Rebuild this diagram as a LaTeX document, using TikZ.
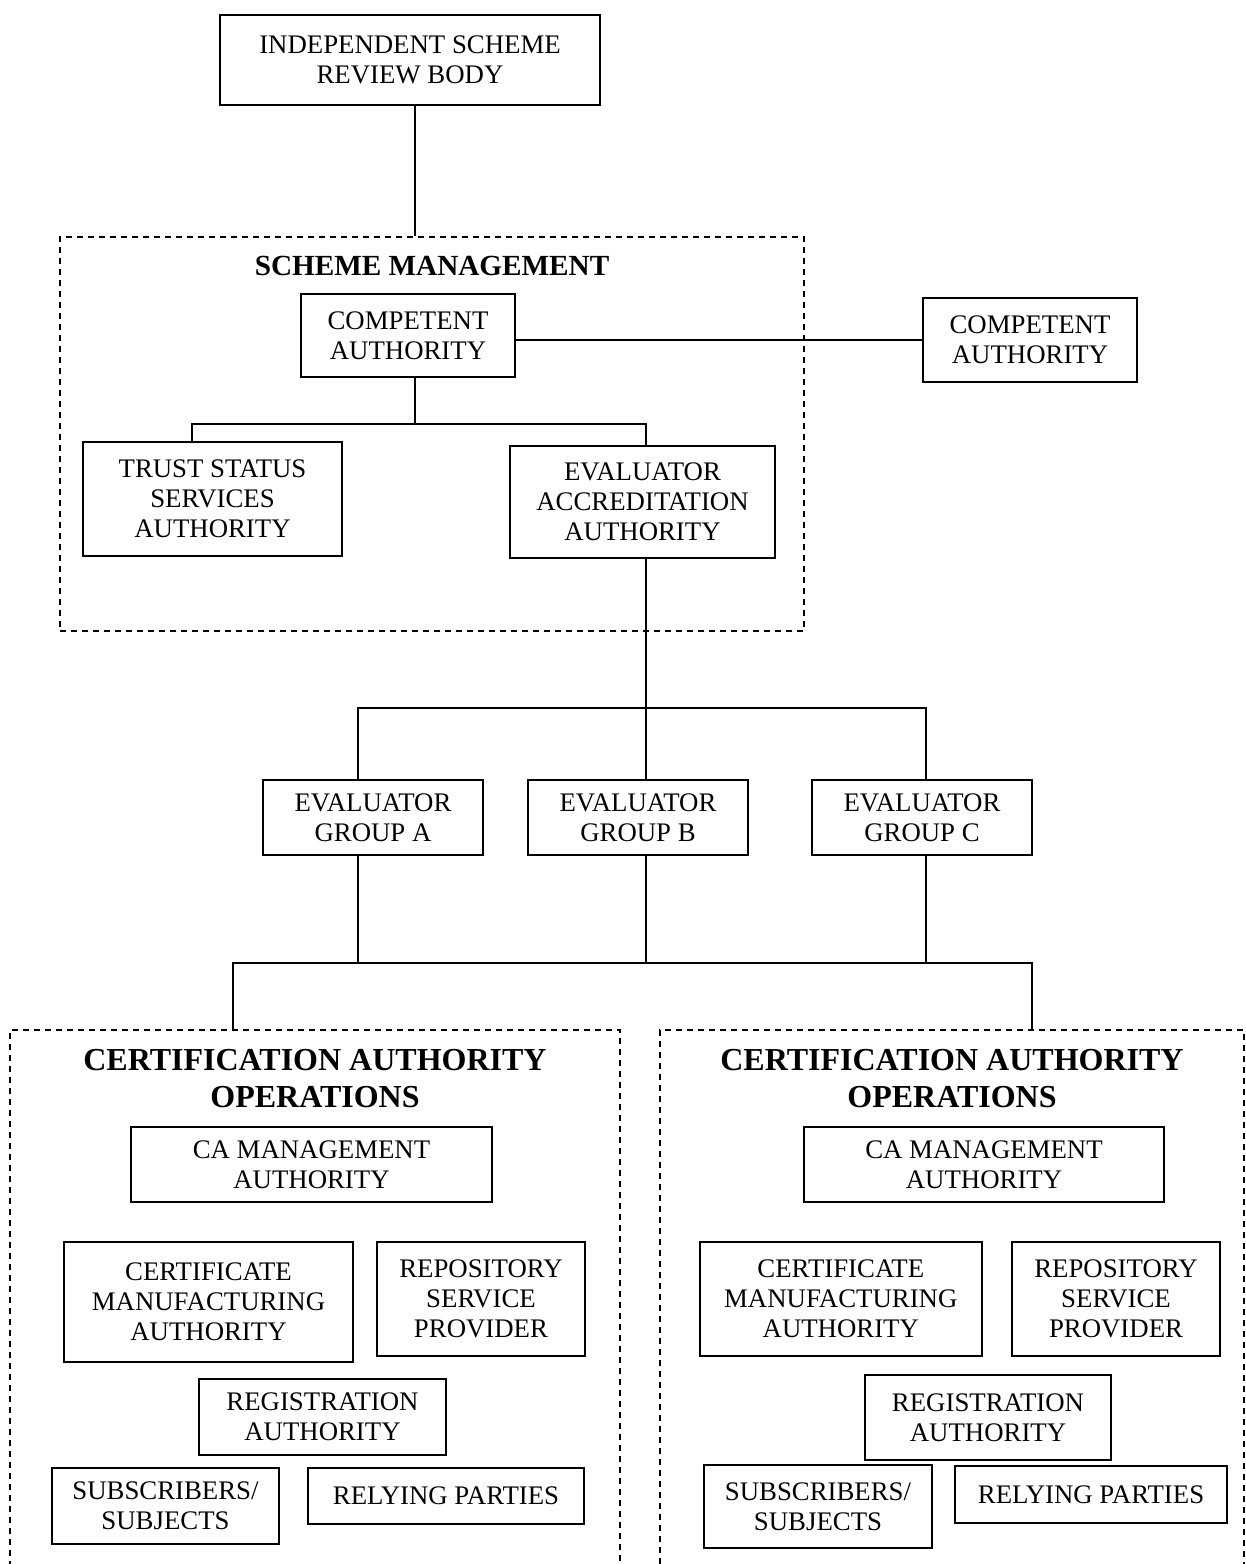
\documentclass[tikz,border=0pt]{standalone}
\usepackage{fontspec}
\setmainfont{Liberation Serif}
\usetikzlibrary{positioning,calc}
\tikzset{
  unit/.style={draw=black,line width=1pt,align=center,inner sep=2pt,
    font=\fontsize{13.4}{15}\selectfont},
  zone/.style={draw=black,dash pattern=on 3pt off 2.5pt,line width=0.8pt},
  link/.style={draw=black,line width=1pt},
  smhead/.style={font=\bfseries\fontsize{14.6}{17}\selectfont,align=center},
  opshead/.style={font=\bfseries\fontsize{16}{18.5}\selectfont,align=center},
}

\begin{document}
\begin{tikzpicture}[x=0.5pt,y=-0.5pt]
\useasboundingbox (0,0) rectangle (1246,1564);

% review body
\node[unit,minimum width=190pt,minimum height=45pt] (isrb) at (410,60) {INDEPENDENT SCHEME\\REVIEW BODY};

% scheme management
\node[zone,minimum width=372pt,minimum height=197pt] (sm) at (432,434) {};
\node[smhead] (smtitle) at (432,266) {SCHEME MANAGEMENT};
\node[unit,minimum width=107pt,minimum height=41.5pt] (ca1) at (408,335.5) {COMPETENT\\AUTHORITY};
\node[unit,minimum width=107pt,minimum height=42pt] (ca2) at (1030,340) {COMPETENT\\AUTHORITY};
\node[unit,minimum width=129.5pt,minimum height=57pt] (tssa) at (212.5,499) {TRUST STATUS\\SERVICES\\AUTHORITY};
\node[unit,minimum width=132.5pt,minimum height=56pt] (eaa) at (642.5,502) {EVALUATOR\\ACCREDITATION\\AUTHORITY};

% evaluator groups
\node[unit,minimum width=110pt,minimum height=37.5pt] (ega) at (373,817.5) {EVALUATOR\\GROUP A};
\node[unit,minimum width=110pt,minimum height=37.5pt] (egb) at (638,817.5) {EVALUATOR\\GROUP B};
\node[unit,minimum width=110pt,minimum height=37.5pt] (egc) at (922,817.5) {EVALUATOR\\GROUP C};

% CA operations, left
\node[zone,minimum width=305pt,minimum height=285pt] (opsL) at (315,1315) {};
\node[opshead] (opsLtitle) at (315,1079) {CERTIFICATION AUTHORITY\\OPERATIONS};
\node[unit,minimum width=180.5pt,minimum height=37.8pt] (camL) at (311.5,1164.5) {CA MANAGEMENT\\AUTHORITY};
\node[unit,minimum width=144.5pt,minimum height=60pt] (cmaL) at (208.5,1302) {CERTIFICATE\\MANUFACTURING\\AUTHORITY};
\node[unit,minimum width=103.8pt,minimum height=57pt] (rspL) at (481,1299) {REPOSITORY\\SERVICE\\PROVIDER};
\node[unit,minimum width=123.5pt,minimum height=38pt] (raL) at (322.5,1417) {REGISTRATION\\AUTHORITY};
\node[unit,minimum width=113.5pt,minimum height=38pt] (subL) at (165.5,1506) {SUBSCRIBERS/\\SUBJECTS};
\node[unit,minimum width=138pt,minimum height=28pt] (rpL) at (446,1496) {RELYING PARTIES};

% CA operations, right
\node[zone,minimum width=292pt,minimum height=285pt] (opsR) at (952,1315) {};
\node[opshead] (opsRtitle) at (952,1079) {CERTIFICATION AUTHORITY\\OPERATIONS};
\node[unit,minimum width=180pt,minimum height=37.5pt] (camR) at (984,1164.5) {CA MANAGEMENT\\AUTHORITY};
\node[unit,minimum width=140.8pt,minimum height=57pt] (cmaR) at (840.8,1299) {CERTIFICATE\\MANUFACTURING\\AUTHORITY};
\node[unit,minimum width=104pt,minimum height=57pt] (rspR) at (1116,1299) {REPOSITORY\\SERVICE\\PROVIDER};
\node[unit,minimum width=123.3pt,minimum height=42.5pt] (raR) at (988,1417.5) {REGISTRATION\\AUTHORITY};
\node[unit,minimum width=114pt,minimum height=41.5pt] (subR) at (818,1506.5) {SUBSCRIBERS/\\SUBJECTS};
\node[unit,minimum width=136.3pt,minimum height=28.5pt] (rpR) at (1091,1494.5) {RELYING PARTIES};

% bus points
\coordinate (spine) at (415,0);
\coordinate (busA) at (192,424);
\coordinate (busB) at (646,424);
\coordinate (busC) at (358,708);
\coordinate (busD) at (926,708);
\coordinate (busE) at (233,963);
\coordinate (busF) at (1032,963);

% connectors
\draw[link] (isrb.south -| spine) -- (spine |- sm.north);
\draw[link] (ca2.west) -- (ca2.west -| ca1.east);
\draw[link] (ca1.south -| spine) -- (spine |- busA);
\draw[link] (tssa.north -| busA) |- (busB) -- (eaa.north -| busB);
\draw[link] (eaa.south -| busB) -- (busB |- busC);
\draw[link] (ega.north -| busC) |- (busD) -- (egc.north -| busD);
\draw[link] (egb.north -| busB) -- (busB |- busC);
\draw[link] (ega.south -| busC) -- (busC |- busE);
\draw[link] (egb.south -| busB) -- (busB |- busE);
\draw[link] (egc.south -| busD) -- (busD |- busE);
\draw[link] (opsL.north -| busE) |- (busF) -- (opsR.north -| busF);
\end{tikzpicture}
\end{document}
